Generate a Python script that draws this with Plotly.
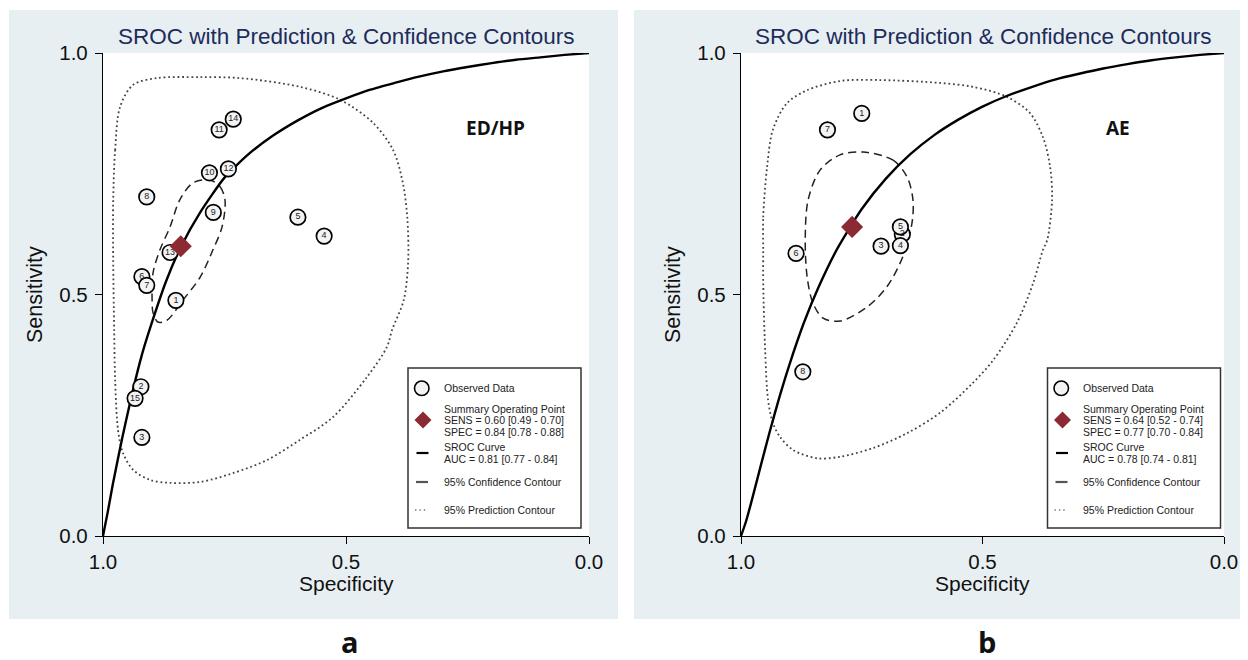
import plotly.graph_objects as go

# page offset of the figure inside the browser (body margin) and figure size
OFF = 8
FW, FH = 1240, 652

# ---------------- data: panel a (ED/HP) ----------------
a_ids = ["1", "2", "3", "4", "5", "6", "7", "8", "9", "10", "11", "12", "13", "14", "15"]
a_spec = [0.850, 0.922, 0.920, 0.545, 0.599, 0.920, 0.910, 0.910, 0.773, 0.781, 0.761, 0.742, 0.862, 0.732, 0.934]
a_sens = [0.488, 0.309, 0.204, 0.621, 0.660, 0.537, 0.519, 0.702, 0.670, 0.752, 0.841, 0.760, 0.587, 0.863, 0.285]
a_sum_spec, a_sum_sens = 0.84, 0.60

a_sroc_spec = [1.0, 0.99, 0.98, 0.96, 0.94, 0.92, 0.90, 0.87, 0.84, 0.80, 0.75, 0.70, 0.65, 0.60, 0.55, 0.50,
               0.45, 0.40, 0.35, 0.30, 0.25, 0.20, 0.15, 0.10, 0.05, 0.0]
a_sroc_sens = [0.0, 0.051, 0.106, 0.205, 0.295, 0.375, 0.440, 0.528, 0.598, 0.670, 0.742, 0.791, 0.829, 0.860,
               0.886, 0.906, 0.924, 0.938, 0.951, 0.962, 0.971, 0.979, 0.986, 0.991, 0.996, 1.0]

a_conf_spec = [0.780, 0.759, 0.749, 0.755, 0.774, 0.800, 0.835, 0.868, 0.887, 0.897, 0.899, 0.897, 0.883, 0.862, 0.842, 0.815, 0.780]
a_conf_sens = [0.737, 0.723, 0.696, 0.640, 0.592, 0.536, 0.489, 0.447, 0.443, 0.462, 0.489, 0.545, 0.592, 0.640, 0.696, 0.731, 0.737]

a_pred_spec = [0.979, 0.975, 0.965, 0.938, 0.889, 0.800, 0.718, 0.595, 0.512, 0.444, 0.403, 0.383, 0.374, 0.372, 0.381,
               0.405, 0.416, 0.457, 0.527, 0.595, 0.663, 0.733, 0.800, 0.862, 0.903, 0.938, 0.959, 0.969, 0.975,
               0.977, 0.979, 0.979]
a_pred_sens = [0.696, 0.799, 0.888, 0.934, 0.948, 0.950, 0.948, 0.930, 0.903, 0.855, 0.799, 0.731, 0.660, 0.571, 0.489,
               0.427, 0.391, 0.329, 0.246, 0.199, 0.157, 0.130, 0.112, 0.110, 0.116, 0.137, 0.172, 0.219, 0.323,
               0.427, 0.571, 0.696]

a_label = "ED/HP"
a_legend = ["SENS = 0.60 [0.49 - 0.70]", "SPEC = 0.84 [0.78 - 0.88]", "AUC = 0.81 [0.77 - 0.84]"]

# ---------------- data: panel b (AE) ----------------
b_ids = ["1", "2", "3", "4", "5", "6", "7", "8"]
b_spec = [0.750, 0.666, 0.710, 0.670, 0.670, 0.886, 0.821, 0.872]
b_sens = [0.875, 0.625, 0.600, 0.601, 0.640, 0.585, 0.841, 0.340]
b_sum_spec, b_sum_sens = 0.77, 0.64

b_sroc_spec = [1.0, 0.99, 0.98, 0.96, 0.94, 0.92, 0.90, 0.87, 0.84, 0.80, 0.75, 0.70, 0.65, 0.60, 0.55, 0.50,
               0.45, 0.40, 0.35, 0.30, 0.25, 0.20, 0.15, 0.10, 0.05, 0.0]
b_sroc_sens = [0.0, 0.029, 0.065, 0.142, 0.218, 0.289, 0.354, 0.441, 0.514, 0.596, 0.677, 0.740, 0.790, 0.830,
               0.862, 0.889, 0.911, 0.929, 0.945, 0.957, 0.968, 0.977, 0.985, 0.991, 0.996, 1.0]

b_conf_spec = [0.747, 0.685, 0.656, 0.644, 0.646, 0.665, 0.698, 0.739, 0.795, 0.830, 0.851, 0.863, 0.867, 0.861, 0.836, 0.795, 0.747]
b_conf_sens = [0.795, 0.778, 0.743, 0.696, 0.648, 0.578, 0.516, 0.474, 0.445, 0.451, 0.482, 0.536, 0.613, 0.696, 0.758, 0.789, 0.795]

b_pred_spec = [0.954, 0.954, 0.946, 0.934, 0.905, 0.863, 0.795, 0.712, 0.588, 0.520, 0.449, 0.402, 0.375, 0.360, 0.356,
               0.366, 0.375, 0.395, 0.429, 0.478, 0.520, 0.588, 0.656, 0.727, 0.795, 0.843, 0.892, 0.919, 0.934,
               0.944, 0.950, 0.954, 0.954]
b_pred_sens = [0.592, 0.660, 0.764, 0.841, 0.896, 0.923, 0.942, 0.944, 0.938, 0.930, 0.909, 0.876, 0.826, 0.764, 0.696,
               0.613, 0.592, 0.524, 0.441, 0.364, 0.317, 0.255, 0.213, 0.182, 0.164, 0.161, 0.178, 0.205, 0.234,
               0.282, 0.385, 0.524, 0.592]

b_label = "AE"
b_legend = ["SENS = 0.64 [0.52 - 0.74]", "SPEC = 0.77 [0.70 - 0.84]", "AUC = 0.78 [0.74 - 0.81]"]

tick_vals = [0.0, 0.5, 1.0]
tick_text = ["0.0", "0.5", "1.0"]

FONT = "Liberation Sans, Arial, Helvetica, sans-serif"
BOLD_FONT = "Open Sans, Noto Sans, sans-serif"
PANEL_BG = "#e8eff2"
DIAMOND = "#8c2a33"
TITLE_COL = "#1d2c5b"


def px(x):
    """page pixel x -> paper fraction"""
    return (x - OFF) / FW


def py(y):
    """page pixel y -> paper fraction"""
    return 1 - (y - OFF) / FH


fig = go.Figure()
shapes = []
annotations = []


def add_panel(xa, ya, spec, sens, ids, sroc_s, sroc_e, conf_s, conf_e, pred_s, pred_e, sum_s, sum_e):
    fig.add_trace(go.Scatter(x=pred_s, y=pred_e, xaxis=xa, yaxis=ya, mode="lines",
                             line=dict(color="#444444", width=1.8, dash="1.8px,2.8px", shape="spline", smoothing=0.9),
                             hoverinfo="skip", showlegend=False))
    fig.add_trace(go.Scatter(x=conf_s, y=conf_e, xaxis=xa, yaxis=ya, mode="lines",
                             line=dict(color="#222222", width=1.5, dash="8px,5px", shape="spline", smoothing=0.9),
                             hoverinfo="skip", showlegend=False))
    fig.add_trace(go.Scatter(x=sroc_s, y=sroc_e, xaxis=xa, yaxis=ya, mode="lines",
                             line=dict(color="black", width=2.4, shape="spline", smoothing=0.6),
                             hoverinfo="skip", showlegend=False))
    fig.add_trace(go.Scatter(x=spec, y=sens, xaxis=xa, yaxis=ya, mode="markers+text", text=ids,
                             textposition="middle center",
                             textfont=dict(family=FONT, size=9, color="#222"),
                             marker=dict(symbol="circle", size=15.5, color="#f3f3f3",
                                         line=dict(color="black", width=1.7)),
                             cliponaxis=False, showlegend=False))
    fig.add_trace(go.Scatter(x=[sum_s], y=[sum_e], xaxis=xa, yaxis=ya, mode="markers",
                             marker=dict(symbol="diamond", size=17, color=DIAMOND, line=dict(width=0)),
                             cliponaxis=False, showlegend=False))


add_panel("x", "y", a_spec, a_sens, a_ids, a_sroc_spec, a_sroc_sens, a_conf_spec, a_conf_sens,
          a_pred_spec, a_pred_sens, a_sum_spec, a_sum_sens)
add_panel("x2", "y2", b_spec, b_sens, b_ids, b_sroc_spec, b_sroc_sens, b_conf_spec, b_conf_sens,
          b_pred_spec, b_pred_sens, b_sum_spec, b_sum_sens)

# panel backgrounds and white plot areas
for (x0, x1), (xr, yr) in zip([(9, 618), (634, 1244)], [("x", "y"), ("x2", "y2")]):
    shapes.append(dict(type="rect", xref="paper", yref="paper", x0=px(x0), x1=px(x1), y0=py(619), y1=py(10),
                       fillcolor=PANEL_BG, line=dict(width=0), layer="below"))
    shapes.append(dict(type="rect", xref=xr, yref=yr, x0=1, x1=0, y0=0, y1=1,
                       fillcolor="white", line=dict(width=0), layer="below"))

# titles, labels, axis titles
for dx, cx, lab, lx, panel in [(0, 346, a_label, 495, "a"), (638, 982.5, b_label, 1118, "b")]:
    annotations.append(dict(text="SROC with Prediction & Confidence Contours", x=px(cx), y=py(37),
                            xref="paper", yref="paper", showarrow=False, xanchor="center", yanchor="middle",
                            font=dict(family=FONT, size=22.5, color=TITLE_COL)))
    annotations.append(dict(text="<b>%s</b>" % lab, x=px(lx), y=py(128), xref="paper", yref="paper",
                            showarrow=False, xanchor="center", yanchor="middle",
                            font=dict(family=BOLD_FONT, size=19, color="#111")))
    annotations.append(dict(text="<b>%s</b>" % panel, x=px(cx + 4), y=py(641), xref="paper", yref="paper",
                            showarrow=False, xanchor="center", yanchor="middle",
                            font=dict(family=BOLD_FONT, size=29, color="#111")))
    annotations.append(dict(text="Specificity", x=px(cx), y=py(583), xref="paper", yref="paper",
                            showarrow=False, xanchor="center", yanchor="middle",
                            font=dict(family=FONT, size=21, color="#111")))
    annotations.append(dict(text="Sensitivity", x=px(35 + dx), y=py(295), xref="paper", yref="paper",
                            showarrow=False, xanchor="center", yanchor="middle", textangle=-90,
                            font=dict(family=FONT, size=21.5, color="#111")))

# legends (drawn manually)
for dx, leg in [(0, a_legend), (639.5, b_legend)]:
    shapes.append(dict(type="rect", xref="paper", yref="paper", x0=px(408 + dx), x1=px(581 + dx),
                       y0=py(528), y1=py(368), fillcolor="white", line=dict(color="#333", width=1.5)))
    shapes.append(dict(type="circle", xref="paper", yref="paper", x0=px(414.5 + dx), x1=px(429 + dx),
                       y0=py(395.5), y1=py(381), fillcolor="#f3f3f3", line=dict(color="black", width=1.6)))
    cxd, cyd, r = 423 + dx, 420, 8.5
    shapes.append(dict(type="path", xref="paper", yref="paper",
                       path="M %f,%f L %f,%f L %f,%f L %f,%f Z" % (px(cxd), py(cyd - r), px(cxd + r), py(cyd),
                                                                  px(cxd), py(cyd + r), px(cxd - r), py(cyd)),
                       fillcolor=DIAMOND, line=dict(width=0)))
    shapes.append(dict(type="line", xref="paper", yref="paper", x0=px(416.5 + dx), x1=px(428.5 + dx),
                       y0=py(453), y1=py(453), line=dict(color="black", width=2.2)))
    shapes.append(dict(type="line", xref="paper", yref="paper", x0=px(416 + dx), x1=px(428 + dx),
                       y0=py(482), y1=py(482), line=dict(color="#555", width=2.2)))
    shapes.append(dict(type="line", xref="paper", yref="paper", x0=px(415 + dx), x1=px(428 + dx),
                       y0=py(510), y1=py(510), line=dict(color="#777", width=1.4, dash="1.4px,3px")))
    rows = [("Observed Data", 388), ("Summary Operating Point", 409), (leg[0], 420.5), (leg[1], 432),
            ("SROC Curve", 447), (leg[2], 459), ("95% Confidence Contour", 482), ("95% Prediction Contour", 510)]
    for txt, yy in rows:
        annotations.append(dict(text=txt, x=px(441.5 + dx), y=py(yy), xref="paper", yref="paper",
                                showarrow=False, xanchor="left", yanchor="middle",
                                font=dict(family=FONT, size=10.5, color="#222")))

axis_common = dict(range=[1, 0], showgrid=False, zeroline=False, showline=True, linecolor="black", linewidth=1.3,
                   ticks="outside", ticklen=7, tickwidth=1.3, tickcolor="black", automargin=False,
                   tickvals=tick_vals, ticktext=tick_text, tickfont=dict(family=FONT, size=20.5, color="#111"),
                   fixedrange=True)
yaxis_common = dict(axis_common, range=[0, 1], ticklabelstandoff=3)

fig.update_layout(
    width=FW, height=FH, autosize=False,
    margin=dict(l=0, r=0, t=0, b=0, autoexpand=False),
    paper_bgcolor="white", plot_bgcolor="rgba(0,0,0,0)",
    showlegend=False,
    xaxis=dict(axis_common, domain=[px(103), px(589)], anchor="y"),
    yaxis=dict(yaxis_common, domain=[py(536), py(53)], anchor="x"),
    xaxis2=dict(axis_common, domain=[px(741), px(1224)], anchor="y2"),
    yaxis2=dict(yaxis_common, domain=[py(536), py(53)], anchor="x2"),
    shapes=shapes,
    annotations=annotations,
)

fig.write_html("out.html")
